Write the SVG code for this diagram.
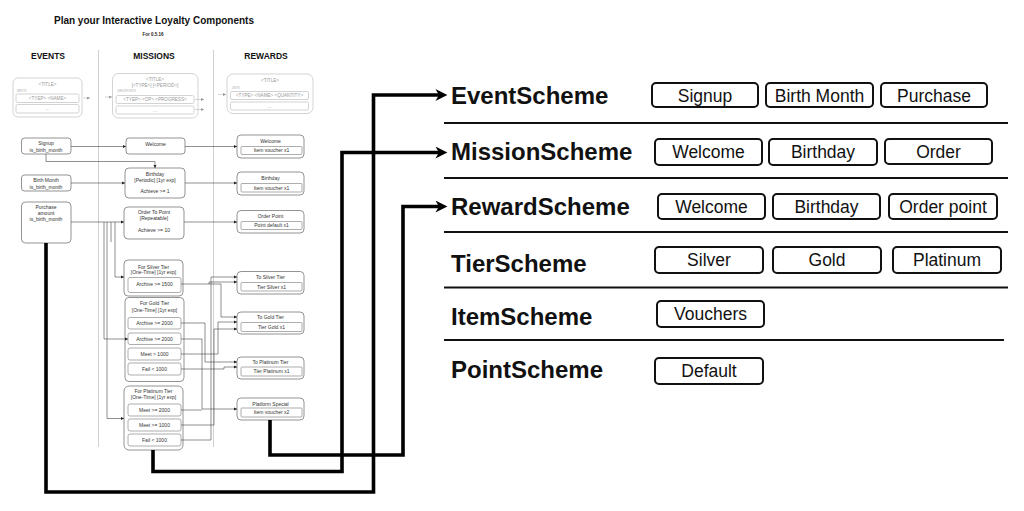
<svg xmlns="http://www.w3.org/2000/svg" width="1024" height="511" viewBox="0 0 1024 511">
<defs>
<style>
.bg{fill:#fff}
text{font-family:"Liberation Sans",Arial,sans-serif}
.title{font-size:10px;font-weight:bold;fill:#111;text-anchor:middle}
.sub{font-size:4.5px;font-weight:bold;fill:#222;text-anchor:middle}
.hdr{font-size:8.5px;font-weight:bold;fill:#111;text-anchor:middle}
.div{stroke:#c4c4c4;stroke-width:.8;fill:none}
.tb{fill:#fff;stroke:#c8c8c8;stroke-width:.8}
.tt{font-size:4.6px;fill:#999;text-anchor:middle}
.ts{font-size:2.6px;fill:#aaa}
.n{fill:#fff;stroke:#666;stroke-width:.7}
.in{fill:#fff;stroke:#777;stroke-width:.6}
.t{font-size:5px;fill:#333;text-anchor:middle}
.c{stroke:#444;stroke-width:.6;fill:none;marker-end:url(#ma)}
.cn{stroke:#444;stroke-width:.6;fill:none}
.tc{stroke:#bbb;stroke-width:.6;fill:none;marker-end:url(#mg)}
.thick{stroke:#000;stroke-width:3.6;fill:none;marker-end:url(#mb)}
.sep{stroke:#111;stroke-width:2.2}
.sch{font-size:24px;font-weight:bold;fill:#111}
.pill{fill:#fff;stroke:#111;stroke-width:2}
.pt{font-size:17.5px;fill:#111;text-anchor:middle}
</style>
<marker id="ma" viewBox="0 0 10 10" refX="10" refY="5" markerWidth="3.2" markerHeight="3.2" markerUnits="userSpaceOnUse" orient="auto"><path d="M0,0 L10,5 L0,10 z" fill="#222"/></marker>
<marker id="mg" viewBox="0 0 10 10" refX="10" refY="5" markerWidth="3" markerHeight="3" markerUnits="userSpaceOnUse" orient="auto"><path d="M0,0 L10,5 L0,10 z" fill="#999"/></marker>
<marker id="mb" viewBox="0 0 10 10" refX="5.5" refY="5" markerWidth="13" markerHeight="12" markerUnits="userSpaceOnUse" orient="auto"><path d="M0,0 L10,5 L0,10 L3,5 z" fill="#000"/></marker>
</defs>
<rect class="bg" x="0" y="0" width="1024" height="511"/>

<g id="header">
<text class="title" x="154" y="24">Plan your Interactive Loyalty Components</text>
<text class="sub" x="153" y="35.5">For 0.5.16</text>
<text class="hdr" x="48" y="59">EVENTS</text>
<text class="hdr" x="154" y="59">MISSIONS</text>
<text class="hdr" x="266" y="59">REWARDS</text>
<line class="div" x1="98.5" y1="50" x2="98.5" y2="447"/>
<line class="div" x1="213.5" y1="50" x2="213.5" y2="447"/>
</g>

<g id="template-event">
<rect class="tb" x="13" y="78" width="69" height="39" rx="5"/>
<text class="tt" x="47.5" y="85.5">&lt;TITLE&gt;</text>
<text class="ts" x="17" y="91.5">INPUTS</text>
<rect class="tb" x="16" y="94" width="63" height="8.5" rx="1.5"/>
<text class="tt" x="47.5" y="99.8">&lt;TYEP&gt;  &lt;NAME&gt;</text>
<rect class="tb" x="16" y="104.5" width="63" height="8.5" rx="1.5"/>
<text class="tt" x="47.5" y="110">...</text>
</g>
<g id="template-mission">
<rect class="tb" x="112.5" y="73.5" width="85.5" height="44.5" rx="6"/>
<text class="tt" x="155" y="80.5">&lt;TITLE&gt;</text>
<text class="tt" x="155" y="86.5">[&lt;TYPE&gt;] [&lt;PERIOD&gt;]</text>
<text class="ts" x="117" y="91.5">CHECKPOINTS</text>
<rect class="tb" x="116" y="95.5" width="78" height="8" rx="1.5"/>
<text class="tt" x="155" y="101">&lt;TYEP&gt;  &lt;OP&gt; &lt;PROGRESS&gt;</text>
<rect class="tb" x="116" y="106" width="78" height="8" rx="1.5"/>
<text class="tt" x="155" y="111.5">...</text>
</g>
<g id="template-reward">
<rect class="tb" x="227" y="74" width="86" height="39.5" rx="6"/>
<text class="tt" x="270" y="81.5">&lt;TITLE&gt;</text>
<text class="ts" x="232" y="88.5">UNITS</text>
<rect class="tb" x="230.5" y="91.5" width="78" height="8" rx="1.5"/>
<text class="tt" x="269.5" y="97">&lt;TYPE&gt;  &lt;NAME&gt; &lt;QUANTITY&gt;</text>
<rect class="tb" x="230.5" y="102" width="78" height="8" rx="1.5"/>
<text class="tt" x="269.5" y="107.5">...</text>
</g>

<g id="ev-signup">
<rect class="n" x="21.5" y="138" width="49.5" height="16" rx="3"/>
<text class="t" x="46" y="145">Signup</text>
<text class="t" x="46" y="151.5">is_birth_month</text>
</g>
<g id="ev-birth-month">
<rect class="n" x="21.5" y="175" width="49.5" height="16" rx="3"/>
<text class="t" x="46" y="182">Birth Month</text>
<text class="t" x="46" y="188.5">is_birth_month</text>
</g>
<g id="ev-purchase">
<rect class="n" x="21.5" y="202" width="49.5" height="41" rx="4"/>
<text class="t" x="46" y="209">Purchase</text>
<text class="t" x="46" y="215">amount</text>
<text class="t" x="46" y="221">is_birth_month</text>
</g>

<g id="ms-welcome">
<rect class="n" x="126" y="138" width="59" height="16" rx="3"/>
<text class="t" x="155.5" y="145.8">Welcome</text>
</g>
<g id="ms-birthday">
<rect class="n" x="125" y="168" width="60" height="30" rx="4"/>
<text class="t" x="155" y="175.5">Birthday</text>
<text class="t" x="155" y="181.8">[Periodic] [1yr exp]</text>
<text class="t" x="155" y="193">Achieve &gt;= 1</text>
</g>
<g id="ms-order">
<rect class="n" x="124" y="207" width="60" height="32" rx="4"/>
<text class="t" x="154" y="214">Order To Point</text>
<text class="t" x="154" y="220">[Repeatable]</text>
<text class="t" x="154" y="232">Achieve &gt;= 10</text>
</g>
<g id="ms-silver">
<rect class="n" x="124" y="260" width="59" height="36" rx="4"/>
<text class="t" x="153.5" y="268.5">For Silver Tier</text>
<text class="t" x="153.5" y="274.3">[One-Time]  [1yr exp]</text>
<rect class="in" x="128" y="277.5" width="53" height="15" rx="2"/>
<text class="t" x="154.5" y="286">Archive &gt;= 1500</text>
</g>
<g id="ms-gold">
<rect class="n" x="125" y="297.5" width="59" height="84" rx="4"/>
<text class="t" x="154.5" y="305">For Gold Tier</text>
<text class="t" x="154.5" y="312">[One-Time]  [1yr exp]</text>
<rect class="in" x="128" y="317.5" width="53" height="11.5" rx="2"/>
<text class="t" x="154.5" y="325">Archive &gt;= 2000</text>
<rect class="in" x="128" y="333" width="53" height="11.5" rx="2"/>
<text class="t" x="154.5" y="340.5">Archive &gt;= 2000</text>
<rect class="in" x="128" y="348" width="53" height="12" rx="2"/>
<text class="t" x="154.5" y="355.8">Meet &gt; 1000</text>
<rect class="in" x="128" y="363" width="53" height="12" rx="2"/>
<text class="t" x="154.5" y="370.8">Fail &lt; 1000</text>
</g>
<g id="ms-platinum">
<rect class="n" x="124" y="386" width="59" height="64" rx="5"/>
<text class="t" x="153.5" y="393">For Platinum Tier</text>
<text class="t" x="153.5" y="399">[One-Time]  [1yr exp]</text>
<rect class="in" x="128" y="404" width="53" height="12" rx="2"/>
<text class="t" x="154.5" y="411.8">Meet &gt;= 2000</text>
<rect class="in" x="128" y="419" width="53" height="12" rx="2"/>
<text class="t" x="154.5" y="426.8">Meet &gt;= 1000</text>
<rect class="in" x="128" y="434" width="53" height="12" rx="2"/>
<text class="t" x="154.5" y="441.8">Fail &lt; 1000</text>
</g>

<g id="rw-welcome">
<rect class="n" x="237" y="135" width="67" height="23" rx="4"/>
<text class="t" x="270.5" y="142.5">Welcome</text>
<rect class="in" x="241" y="146.5" width="61" height="8" rx="1"/>
<text class="t" x="271.5" y="152.3">Item voucher x1</text>
</g>
<g id="rw-birthday">
<rect class="n" x="237" y="172" width="67" height="23" rx="4"/>
<text class="t" x="270.5" y="179.5">Birthday</text>
<rect class="in" x="241" y="183.5" width="61" height="8.5" rx="1"/>
<text class="t" x="271.5" y="189.6">Item voucher x1</text>
</g>
<g id="rw-order-point">
<rect class="n" x="237" y="210.5" width="67" height="22.5" rx="4"/>
<text class="t" x="270.5" y="217.5">Order Point</text>
<rect class="in" x="241" y="221.5" width="61" height="8" rx="1"/>
<text class="t" x="271.5" y="227.3">Point default x1</text>
</g>
<g id="rw-silver">
<rect class="n" x="237" y="271.5" width="67" height="22.5" rx="4"/>
<text class="t" x="270.5" y="278.5">To Silver Tier</text>
<rect class="in" x="241" y="282.5" width="61" height="8.5" rx="1"/>
<text class="t" x="271.5" y="288.5">Tier Silver x1</text>
</g>
<g id="rw-gold">
<rect class="n" x="237" y="312" width="67" height="22" rx="4"/>
<text class="t" x="270.5" y="319">To Gold Tier</text>
<rect class="in" x="241" y="322.5" width="61" height="9" rx="1"/>
<text class="t" x="271.5" y="328.8">Tier Gold x1</text>
</g>
<g id="rw-platinum">
<rect class="n" x="237" y="357" width="67" height="22" rx="4"/>
<text class="t" x="270.5" y="364">To Platinum Tier</text>
<rect class="in" x="241" y="367" width="61" height="9" rx="1"/>
<text class="t" x="271.5" y="373.3">Tier Platinum x1</text>
</g>
<g id="rw-platform">
<rect class="n" x="237" y="398" width="67" height="22" rx="4"/>
<text class="t" x="270.5" y="405.8">Platform Special</text>
<rect class="in" x="241" y="408" width="61" height="9" rx="1"/>
<text class="t" x="271.5" y="414.3">Item voucher x2</text>
</g>

<g id="connectors">
<path class="tc" d="M83.5,98 H90"/>
<path class="tc" d="M105,97 H112"/>
<path class="tc" d="M195,99.5 H204"/>
<path class="tc" d="M195,109.5 H204"/>
<path class="tc" d="M218,94.5 H226"/>

<path class="c" d="M71,146.5 H126"/>
<path class="c" d="M185,146.5 H237"/>
<path class="c" d="M46,154 V161.5 H155 V168"/>
<path class="c" d="M71,183 H125"/>
<path class="c" d="M185,183 H237"/>
<path class="c" d="M71,222 H124"/>
<path class="c" d="M184,222 H237"/>
<path class="c" d="M104,222 V339 H128"/>
<path class="c" d="M107,222 V418.5 H124"/>
<path class="cn" d="M111,222 V242"/>
<path class="c" d="M115,222 V277 H124"/>

<path class="c" d="M181,284 H221 V317 H237"/>
<path class="c" d="M209,284 V282 H237"/>
<path class="c" d="M181,440 H211 V277 H237"/>
<path class="c" d="M181,323 H205 V362 H237"/>
<path class="c" d="M181,339 H202 V409 H237"/>
<path class="cn" d="M181,410 H202"/>
<path class="c" d="M181,354 H218 V322 H237"/>
<path class="c" d="M181,369 H224 V367 H237"/>
<path class="c" d="M181,425 H214 V329 H237"/>

<path class="thick" d="M46,243 V492 H373.5 V95 H442"/>
<path class="thick" d="M153,450 V471.5 H342 V152.5 H442"/>
<path class="thick" d="M270,420 V455 H403 V206.5 H442"/>
</g>

<g id="schemes">
<line class="sep" x1="444" y1="123" x2="1008" y2="123"/>
<line class="sep" x1="444" y1="178" x2="1008" y2="178"/>
<line class="sep" x1="444" y1="232" x2="1008" y2="232"/>
<line class="sep" x1="444" y1="287.5" x2="1008" y2="287.5"/>
<line class="sep" x1="444" y1="340" x2="1004" y2="340"/>
</g>

<g id="event-scheme">
<text class="sch" x="451" y="104">EventScheme</text>
<rect class="pill" x="652" y="83" width="106" height="24" rx="4"/>
<text class="pt" x="705" y="101.5">Signup</text>
<rect class="pill" x="766" y="83" width="107" height="24" rx="4"/>
<text class="pt" x="819.5" y="101.5">Birth Month</text>
<rect class="pill" x="881" y="83" width="106" height="24" rx="4"/>
<text class="pt" x="934" y="101.5">Purchase</text>
</g>
<g id="mission-scheme">
<text class="sch" x="451" y="159.5">MissionScheme</text>
<rect class="pill" x="655" y="139" width="107" height="26" rx="4"/>
<text class="pt" x="708.5" y="158">Welcome</text>
<rect class="pill" x="769" y="139" width="108" height="26" rx="4"/>
<text class="pt" x="823" y="158">Birthday</text>
<rect class="pill" x="885" y="139" width="107" height="25" rx="4"/>
<text class="pt" x="938.5" y="157.5">Order</text>
</g>
<g id="reward-scheme">
<text class="sch" x="451" y="215">RewardScheme</text>
<rect class="pill" x="658" y="194" width="107" height="25" rx="4"/>
<text class="pt" x="711.5" y="212.5">Welcome</text>
<rect class="pill" x="773" y="194" width="107" height="25" rx="4"/>
<text class="pt" x="826.5" y="212.5">Birthday</text>
<rect class="pill" x="889" y="194" width="108" height="25" rx="4"/>
<text class="pt" x="943" y="212.5">Order point</text>
</g>
<g id="tier-scheme">
<text class="sch" x="451" y="271.5">TierScheme</text>
<rect class="pill" x="655" y="247" width="108" height="26" rx="4"/>
<text class="pt" x="709" y="266">Silver</text>
<rect class="pill" x="773" y="247" width="108" height="26" rx="4"/>
<text class="pt" x="827" y="266">Gold</text>
<rect class="pill" x="893" y="247" width="108" height="26" rx="4"/>
<text class="pt" x="947" y="266">Platinum</text>
</g>
<g id="item-scheme">
<text class="sch" x="451" y="324.5">ItemScheme</text>
<rect class="pill" x="657" y="301" width="107" height="26" rx="4"/>
<text class="pt" x="710.5" y="320">Vouchers</text>
</g>
<g id="point-scheme">
<text class="sch" x="451" y="378">PointScheme</text>
<rect class="pill" x="655" y="358" width="108" height="26" rx="4"/>
<text class="pt" x="709" y="377">Default</text>
</g>
</svg>
